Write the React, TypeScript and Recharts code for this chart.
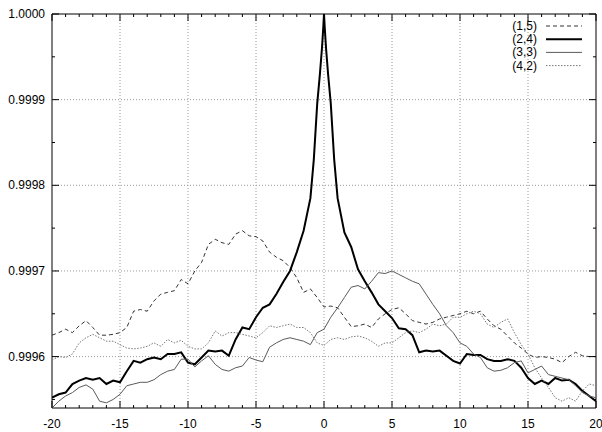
import React from 'react';
import { LineChart, Line, XAxis, YAxis, ReferenceLine, ReferenceArea } from 'recharts';

// x positions (step 0.5)
const xs = [
  -20, -19.5, -19, -18.5, -18, -17.5, -17, -16.5, -16, -15.5, -15, -14.5, -14, -13.5, -13, -12.5, -12, -11.5, -11, -10.5,
  -10, -9.5, -9, -8.5, -8, -7.5, -7, -6.5, -6, -5.5, -5, -4.5, -4, -3.5, -3, -2.5, -2, -1.5, -1, -0.5,
  0, 0.5, 1, 1.5, 2, 2.5, 3, 3.5, 4, 4.5, 5, 5.5, 6, 6.5, 7, 7.5, 8, 8.5, 9, 9.5,
  10, 10.5, 11, 11.5, 12, 12.5, 13, 13.5, 14, 14.5, 15, 15.5, 16, 16.5, 17, 17.5, 18, 18.5, 19, 19.5, 20,
];

// (2,4) has extra samples around the cusp at 0
const xs24 = [
  -20, -19.5, -19, -18.5, -18, -17.5, -17, -16.5, -16, -15.5, -15, -14.5, -14, -13.5, -13, -12.5, -12, -11.5, -11, -10.5,
  -10, -9.5, -9, -8.5, -8, -7.5, -7, -6.5, -6, -5.5, -5, -4.5, -4, -3.5, -3, -2.5, -2, -1.5, -1,
  -0.75, -0.5, -0.3, -0.15, -0.05, 0, 0.05, 0.15, 0.3, 0.5, 0.75,
  1, 1.5, 2, 2.5, 3, 3.5, 4, 4.5, 5, 5.5, 6, 6.5, 7, 7.5, 8, 8.5, 9, 9.5,
  10, 10.5, 11, 11.5, 12, 12.5, 13, 13.5, 14, 14.5, 15, 15.5, 16, 16.5, 17, 17.5, 18, 18.5, 19, 19.5, 20,
];

const s15 = [
  0.999625, 0.999628, 0.999632, 0.999628, 0.999636, 0.999642, 0.999634, 0.999625, 0.999625, 0.999626,
  0.999628, 0.999634, 0.999653, 0.999655, 0.999653, 0.999665, 0.999673, 0.999675, 0.999677, 0.99969,
  0.999685, 0.9997, 0.99971, 0.999731, 0.999737, 0.999733, 0.999731, 0.999743, 0.999747, 0.999741,
  0.99974, 0.999735, 0.999722, 0.999716, 0.999712, 0.999704, 0.999692, 0.999675, 0.999679, 0.999669,
  0.999658, 0.999659, 0.999657, 0.999646, 0.999635, 0.999636, 0.999638, 0.999634, 0.999644, 0.99965,
  0.999655, 0.999657, 0.99965, 0.999642, 0.99964, 0.999638, 0.99964, 0.999644, 0.999646, 0.999648,
  0.99965, 0.999653, 0.99965, 0.999653, 0.999644, 0.999636, 0.999632, 0.999624, 0.999616, 0.99961,
  0.999603, 0.999599, 0.9996, 0.999599, 0.999597, 0.999593, 0.9996, 0.999605, 0.999601, 0.9996, 0.9996,
];

const s24 = [
  0.999552, 0.999556, 0.999558, 0.999568, 0.999572, 0.999575, 0.999573, 0.999575, 0.999568, 0.999572,
  0.99957, 0.999583, 0.999595, 0.999593, 0.999597, 0.999599, 0.999597, 0.999603, 0.999603, 0.999605,
  0.999593, 0.999591, 0.999599, 0.999607, 0.999606, 0.999607, 0.999601, 0.99962, 0.999634, 0.999632,
  0.999646, 0.999657, 0.999661, 0.999673, 0.999687, 0.9997, 0.999722, 0.999747, 0.999785,
  0.99983, 0.999895, 0.99993, 0.99996, 0.999985, 1.0, 0.999985, 0.99996, 0.99993, 0.999895, 0.99983,
  0.999785, 0.999745, 0.999728, 0.999702, 0.999688, 0.999675, 0.999661, 0.999653, 0.999645, 0.999633,
  0.999632, 0.999625, 0.999605, 0.999607, 0.999606, 0.999607, 0.999601, 0.999595,
  0.999592, 0.999603, 0.999602, 0.999602, 0.999597, 0.999595, 0.999595, 0.999597, 0.999595, 0.999587,
  0.999575, 0.999568, 0.999572, 0.999568, 0.999575, 0.999572, 0.999573, 0.999568, 0.99956, 0.999554, 0.999548,
];

const s33 = [
  0.99954, 0.999548, 0.999554, 0.999558, 0.999564, 0.999567, 0.999562, 0.999548, 0.999546, 0.99955,
  0.999556, 0.999566, 0.999568, 0.99957, 0.99957, 0.999573, 0.999579, 0.999583, 0.999585, 0.999597,
  0.999597, 0.999588, 0.999595, 0.999601, 0.999591, 0.999585, 0.999583, 0.999587, 0.999589, 0.999599,
  0.999596, 0.999594, 0.999611, 0.999616, 0.99962, 0.999622, 0.99962, 0.999618, 0.999614, 0.999628,
  0.999632, 0.999646, 0.999657, 0.999669, 0.999681, 0.999683, 0.999679, 0.999688, 0.999698, 0.999697,
  0.9997, 0.999696, 0.999692, 0.999688, 0.999685, 0.999673, 0.999661, 0.99965, 0.999636, 0.999628,
  0.999616, 0.999612, 0.999603, 0.999599, 0.999587, 0.999583, 0.999584, 0.999587, 0.999593, 0.999595,
  0.999581, 0.999585, 0.999589, 0.999579, 0.999577, 0.999575, 0.999573, 0.999566, 0.999558, 0.999554, 0.999552,
];

const s42 = [
  0.999596, 0.9996, 0.999599, 0.999603, 0.999616, 0.999622, 0.999626, 0.999622, 0.999618, 0.999618,
  0.999614, 0.99961, 0.999609, 0.99961, 0.999612, 0.999616, 0.999612, 0.99962, 0.999616, 0.999619,
  0.999612, 0.999609, 0.999609, 0.999616, 0.99963, 0.999624, 0.999628, 0.999628, 0.999626, 0.999624,
  0.999622, 0.999628, 0.999636, 0.999634, 0.999636, 0.999638, 0.999634, 0.999634, 0.999628, 0.999616,
  0.999613, 0.99962, 0.999622, 0.99962, 0.999623, 0.999624, 0.999622, 0.999618, 0.999612, 0.999616,
  0.999616, 0.999622, 0.999628, 0.99963, 0.999628, 0.999632, 0.999638, 0.999636, 0.999638, 0.999646,
  0.999646, 0.99965, 0.999653, 0.99965, 0.999638, 0.999634, 0.99964, 0.999644, 0.999628, 0.999614,
  0.999603, 0.999587, 0.999575, 0.999564, 0.999552, 0.999548, 0.999552, 0.999548, 0.99956, 0.999568, 0.999566,
];

const xTicks = [
  -20, -19, -18, -17, -16, -15, -14, -13, -12, -11, -10, -9, -8, -7, -6, -5, -4, -3, -2, -1,
  0, 1, 2, 3, 4, 5, 6, 7, 8, 9, 10, 11, 12, 13, 14, 15, 16, 17, 18, 19, 20,
];
const yTicks = [0.99955, 0.9996, 0.99965, 0.9997, 0.99975, 0.9998, 0.99985, 0.9999, 0.99995, 1.0];
const xGrid = [-15, -10, -5, 0, 5, 10, 15];
const yGrid = [0.9996, 0.9997, 0.9998, 0.9999];

const Y_MIN = 0.99954;
const PLOT = { left: 52, right: 596, top: 14, bottom: 408 };
const FONT = '"Liberation Sans", Arial, Helvetica, sans-serif';

const series = [
  { name: '(1,5)', xs: xs, ys: s15, color: '#333333', width: 1, dash: '4 3' },
  { name: '(2,4)', xs: xs24, ys: s24, color: '#000000', width: 2, dash: undefined },
  { name: '(3,3)', xs: xs, ys: s33, color: '#5a5a5a', width: 1, dash: undefined },
  { name: '(4,2)', xs: xs, ys: s42, color: '#777777', width: 1, dash: '1.5 1.5' },
];

const XTick = (props: any) => {
  const { x, payload } = props;
  const v = payload.value;
  const major = v % 5 === 0;
  const len = major ? 7 : 3;
  return (
    <g>
      <line x1={x} x2={x} y1={PLOT.bottom} y2={PLOT.bottom - len} stroke="#000" />
      <line x1={x} x2={x} y1={PLOT.top} y2={PLOT.top + len} stroke="#000" />
      {major && (
        <text x={x} y={PLOT.bottom + 20} textAnchor="middle" fontSize={12} fontFamily={FONT} fill="#000">
          {v}
        </text>
      )}
    </g>
  );
};

const YTick = (props: any) => {
  const { y, payload } = props;
  const v = payload.value;
  const major = Math.round(v * 1e5) % 10 === 0;
  const len = major ? 7 : 3;
  return (
    <g>
      <line x1={PLOT.left} x2={PLOT.left + len} y1={y} y2={y} stroke="#000" />
      <line x1={PLOT.right} x2={PLOT.right - len} y1={y} y2={y} stroke="#000" />
      {major && (
        <text x={PLOT.left - 7} y={y + 4} textAnchor="end" fontSize={12} fontFamily={FONT} fill="#000">
          {v.toFixed(4)}
        </text>
      )}
    </g>
  );
};

const LegendBox = () => (
  <svg width={100} height={62} style={{ position: 'absolute', left: 490, top: 18 }}>
    {series.map((s, i) => (
      <g key={s.name}>
        <text x={47} y={12 + i * 13.2} textAnchor="end" fontSize={12} fontFamily={FONT} fill="#000">
          {s.name}
        </text>
        <line x1={56} x2={92} y1={8 + i * 13.2} y2={8 + i * 13.2} stroke={s.color} strokeWidth={s.width} strokeDasharray={s.dash} />
      </g>
    ))}
  </svg>
);

export default function App() {
  return (
    <div style={{ position: 'relative', width: 602, height: 432, background: '#fff' }}>
      <style>{'body{margin:0}'}</style>
      <LineChart width={602} height={432} margin={{ top: PLOT.top, right: 602 - PLOT.right, bottom: 0, left: 0 }}>
        <XAxis
          type="number"
          dataKey="x"
          domain={[-20, 20]}
          ticks={xTicks}
          interval={0}
          axisLine={false}
          tickLine={false}
          tick={<XTick />}
          height={432 - PLOT.bottom}
          allowDataOverflow
        />
        <YAxis
          type="number"
          domain={[Y_MIN, 1]}
          ticks={yTicks}
          interval={0}
          axisLine={false}
          tickLine={false}
          tick={<YTick />}
          width={PLOT.left}
          allowDataOverflow
        />
        {xGrid.map((g) => (
          <ReferenceLine key={'gx' + g} x={g} stroke="#9a9a9a" strokeDasharray="1 2" />
        ))}
        {yGrid.map((g) => (
          <ReferenceLine key={'gy' + g} y={g} stroke="#9a9a9a" strokeDasharray="1 2" />
        ))}
        <ReferenceArea x1={-20} x2={20} y1={Y_MIN} y2={1} fill="none" stroke="#000" strokeWidth={1} />
        {series.map((s) => (
          <Line
            key={s.name}
            name={s.name}
            data={s.xs.map((x, i) => ({ x, y: s.ys[i] }))}
            dataKey="y"
            type="linear"
            stroke={s.color}
            strokeWidth={s.width}
            strokeDasharray={s.dash}
            dot={false}
            activeDot={false}
            isAnimationActive={false}
          />
        ))}
      </LineChart>
      <LegendBox />
    </div>
  );
}
